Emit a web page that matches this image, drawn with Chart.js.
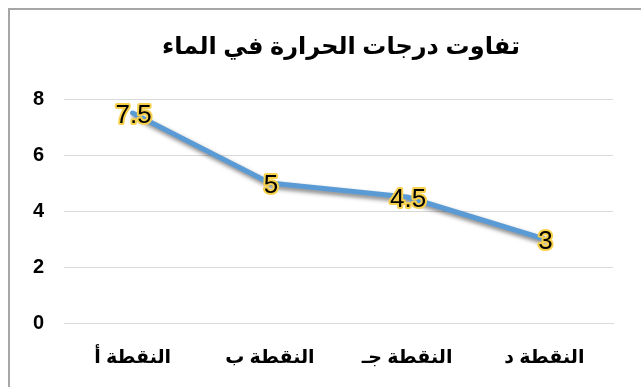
<!DOCTYPE html>
<html>
<head>
<meta charset="utf-8">
<script src="https://cdn.jsdelivr.net/npm/chart.js@4.4.1/dist/chart.umd.min.js"></script>
<style>
  html, body { margin: 0; padding: 0; background: #fff; overflow: hidden; }
  #wrap { position: relative; width: 641px; height: 387px; }
  #frame { position: absolute; left: 8px; top: 8px; width: 700px; height: 400px;
           border-left: 2px solid #a6a6a6; border-top: 2px solid #a6a6a6; box-sizing: border-box; }
  canvas { position: absolute; left: 0; top: 0; }
</style>
</head>
<body>
<div id="wrap">
  <div id="frame"></div>
  <canvas id="c" width="641" height="387"></canvas>
</div>
<script>
const chartTitle = 'تفاوت درجات الحرارة في الماء';
const categories = ['النقطة أ', 'النقطة ب', 'النقطة جـ', 'النقطة د'];
const temperatureDiff = [7.5, 5, 4.5, 3];
const yTicks = [0, 2, 4, 6, 8];

const FONT = '"Liberation Sans", Arial, "DejaVu Sans", sans-serif';

// Chart heading, centred over the frame
const heading = {
  id: 'heading',
  afterDraw(chart) {
    const ctx = chart.ctx;
    ctx.save();
    ctx.font = 'bold 24px ' + FONT;
    ctx.fillStyle = '#000';
    ctx.textAlign = 'center';
    ctx.textBaseline = 'middle';
    ctx.fillText(chartTitle, 341, 47);
    ctx.restore();
  }
};

// Soft drop shadow under the line
const lineShadow = {
  id: 'lineShadow',
  beforeDatasetDraw(chart) {
    const ctx = chart.ctx;
    ctx.save();
    ctx.shadowColor = 'rgba(0,0,0,0.5)';
    ctx.shadowBlur = 4;
    ctx.shadowOffsetX = 2;
    ctx.shadowOffsetY = 3;
  },
  afterDatasetDraw(chart) {
    chart.ctx.restore();
  }
};

// Value labels centred on each point, black text with a yellow outline
const valueLabels = {
  id: 'valueLabels',
  afterDatasetsDraw(chart) {
    const ctx = chart.ctx;
    const meta = chart.getDatasetMeta(0);
    const data = chart.data.datasets[0].data;
    ctx.save();
    ctx.font = '26px ' + FONT;
    ctx.textAlign = 'center';
    ctx.textBaseline = 'middle';
    ctx.lineJoin = 'round';
    meta.data.forEach((pt, i) => {
      const txt = String(data[i]);
      const x = pt.x + 1, y = pt.y + 3;
      ctx.strokeStyle = '#f7d14c';
      ctx.lineWidth = 4;
      ctx.strokeText(txt, x, y);
      ctx.fillStyle = '#000';
      ctx.fillText(txt, x, y);
    });
    ctx.restore();
  }
};

new Chart(document.getElementById('c'), {
  type: 'line',
  data: {
    labels: categories,
    datasets: [{
      data: temperatureDiff,
      borderColor: '#5b9bd5',
      borderWidth: 5,
      pointRadius: 0,
      pointHoverRadius: 0,
      tension: 0,
      fill: false,
      borderCapStyle: 'round',
      borderJoinStyle: 'round'
    }]
  },
  options: {
    responsive: false,
    animation: false,
    events: [],
    layout: { padding: { left: 0, right: 28, top: 99, bottom: 0 } },
    plugins: {
      legend: { display: false },
      tooltip: { enabled: false },
      title: { display: false }
    },
    scales: {
      x: {
        offset: true,
        grid: { display: false, drawTicks: false },
        border: { display: true, color: '#d9d9d9', width: 1 },
        afterFit(scale) { scale.height = 64; scale.paddingLeft = 0; scale.paddingRight = 0; },
        ticks: {
          color: '#000',
          padding: 23,
          font: { family: FONT, size: 19, weight: 'bold' },
          maxRotation: 0
        }
      },
      y: {
        min: 0,
        max: 8,
        afterBuildTicks(scale) { scale.ticks = yTicks.map(v => ({ value: v })); },
        afterFit(scale) { scale.width = 64; scale.paddingTop = 0; scale.paddingBottom = 0; },
        grid: { color: '#d9d9d9', drawTicks: false, lineWidth: 1 },
        border: { display: false },
        ticks: {
          color: '#000',
          padding: 20,
          font: { family: FONT, size: 20, weight: 'bold' }
        }
      }
    }
  },
  plugins: [heading, lineShadow, valueLabels]
});
</script>
</body>
</html>
